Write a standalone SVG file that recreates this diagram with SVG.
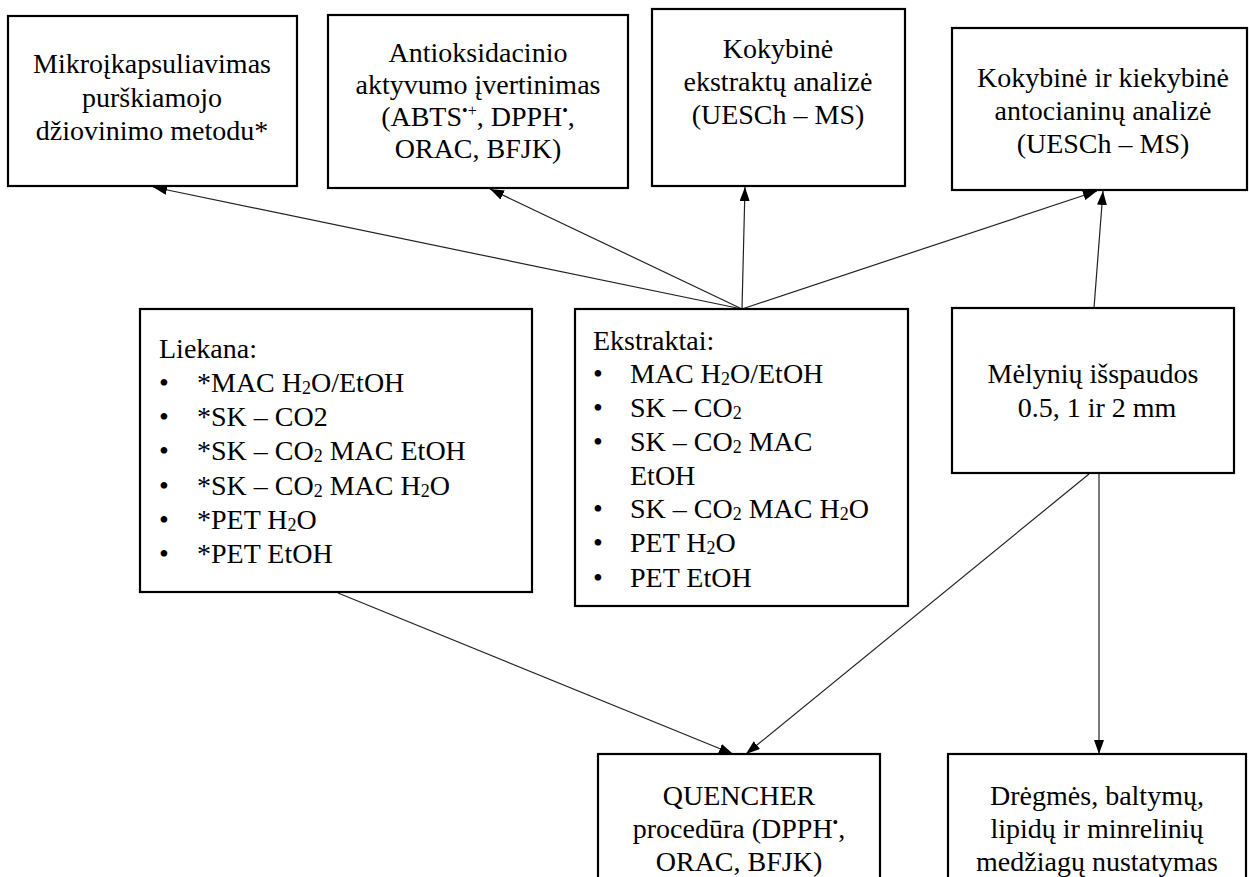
<svg xmlns="http://www.w3.org/2000/svg" width="1249" height="877" viewBox="0 0 1249 877">
<defs>
<style>
.box{fill:#fff;stroke:#000;stroke-width:2.2}
.t{font-family:"Liberation Serif","Times New Roman",serif;font-size:28px;fill:#000}
.c{text-anchor:middle}
.sub{font-size:18px}
.sup{font-size:16px}
.conn line{stroke:#222;stroke-width:1.2;marker-end:url(#ah)}
</style>
<marker id="ah" viewBox="0 0 14 10" refX="14" refY="5" markerWidth="14" markerHeight="10" markerUnits="userSpaceOnUse" orient="auto">
<path d="M0,0 L14,5 L0,10 z" fill="#000"/>
</marker>
</defs>
<rect width="1249" height="877" fill="#fff"/>

<g id="conn" class="conn">
<line x1="742" y1="309" x2="153" y2="187"/>
<line x1="742" y1="309" x2="490" y2="189"/>
<line x1="742" y1="309" x2="745" y2="187"/>
<line x1="742" y1="309" x2="1097" y2="191"/>
<line x1="1094" y1="308" x2="1103" y2="191"/>
<line x1="338" y1="593" x2="733" y2="754"/>
<line x1="1089" y1="474" x2="746" y2="754"/>
<line x1="1099" y1="474" x2="1099" y2="754"/>
</g>

<g id="n1">
<rect class="box" x="8" y="16" width="289" height="170"/>
<text class="t c" x="152" y="73">Mikroįkapsuliavimas</text>
<text class="t c" x="152" y="107">purškiamojo</text>
<text class="t c" x="152" y="140">džiovinimo metodu*</text>
</g>

<g id="n2">
<rect class="box" x="328" y="15" width="300" height="173"/>
<text class="t c" x="478" y="62">Antioksidacinio</text>
<text class="t c" x="478" y="94">aktyvumo įvertinimas</text>
<text class="t c" x="478" y="126">(ABTS<tspan class="sup" dy="-10">•+</tspan><tspan dy="10">, DPPH</tspan><tspan class="sup" dy="-10">•</tspan><tspan dy="10">,</tspan></text>
<text class="t c" x="478" y="158">ORAC, BFJK)</text>
</g>

<g id="n3">
<rect class="box" x="652" y="9" width="253" height="177"/>
<text class="t c" x="778" y="58">Kokybinė</text>
<text class="t c" x="778" y="91">ekstraktų analizė</text>
<text class="t c" x="778" y="124">(UESCh – MS)</text>
</g>

<g id="n4">
<rect class="box" x="952" y="28" width="295" height="162"/>
<text class="t c" x="1103" y="87">Kokybinė ir kiekybinė</text>
<text class="t c" x="1103" y="120">antocianinų analizė</text>
<text class="t c" x="1103" y="153">(UESCh – MS)</text>
</g>

<g id="n5">
<rect class="box" x="140" y="309" width="392" height="283"/>
<text class="t" x="159" y="358">Liekana:</text>
<g class="t">
<text x="159" y="392">•</text><text x="197" y="392">*MAC H<tspan class="sub" dy="2">2</tspan><tspan dy="-2">O/EtOH</tspan></text>
<text x="159" y="426">•</text><text x="197" y="426">*SK – CO2</text>
<text x="159" y="460">•</text><text x="197" y="460">*SK – CO<tspan class="sub" dy="2">2</tspan><tspan dy="-2"> MAC EtOH</tspan></text>
<text x="159" y="495">•</text><text x="197" y="495">*SK – CO<tspan class="sub" dy="2">2</tspan><tspan dy="-2"> MAC H</tspan><tspan class="sub" dy="2">2</tspan><tspan dy="-2">O</tspan></text>
<text x="159" y="529">•</text><text x="197" y="529">*PET H<tspan class="sub" dy="2">2</tspan><tspan dy="-2">O</tspan></text>
<text x="159" y="563">•</text><text x="197" y="563">*PET EtOH</text>
</g>
</g>

<g id="n6">
<rect class="box" x="575" y="309" width="333" height="297"/>
<text class="t" x="593" y="350">Ekstraktai:</text>
<g class="t">
<text x="593" y="383">•</text><text x="630" y="383">MAC H<tspan class="sub" dy="2">2</tspan><tspan dy="-2">O/EtOH</tspan></text>
<text x="593" y="417">•</text><text x="630" y="417">SK – CO<tspan class="sub" dy="2">2</tspan></text>
<text x="593" y="451">•</text><text x="630" y="451">SK – CO<tspan class="sub" dy="2">2</tspan><tspan dy="-2"> MAC</tspan></text>
<text x="630" y="485">EtOH</text>
<text x="593" y="518">•</text><text x="630" y="518">SK – CO<tspan class="sub" dy="2">2</tspan><tspan dy="-2"> MAC H</tspan><tspan class="sub" dy="2">2</tspan><tspan dy="-2">O</tspan></text>
<text x="593" y="552">•</text><text x="630" y="552">PET H<tspan class="sub" dy="2">2</tspan><tspan dy="-2">O</tspan></text>
<text x="593" y="587">•</text><text x="630" y="587">PET EtOH</text>
</g>
</g>

<g id="n7">
<rect class="box" x="952" y="308" width="282" height="165"/>
<text class="t c" x="1093" y="383">Mėlynių išspaudos</text>
<text class="t c" x="1097" y="417">0.5, 1 ir 2 mm</text>
</g>

<g id="n8">
<rect class="box" x="598" y="754" width="282" height="140"/>
<text class="t c" x="739" y="805">QUENCHER</text>
<text class="t c" x="739" y="838">procedūra (DPPH<tspan class="sup" dy="-10">•</tspan><tspan dy="10">,</tspan></text>
<text class="t c" x="739" y="871">ORAC, BFJK)</text>
</g>

<g id="n9">
<rect class="box" x="948" y="754" width="298" height="140"/>
<text class="t c" x="1097" y="805">Drėgmės, baltymų,</text>
<text class="t c" x="1097" y="838">lipidų ir minrelinių</text>
<text class="t c" x="1097" y="871">medžiagų nustatymas</text>
</g>
</svg>
